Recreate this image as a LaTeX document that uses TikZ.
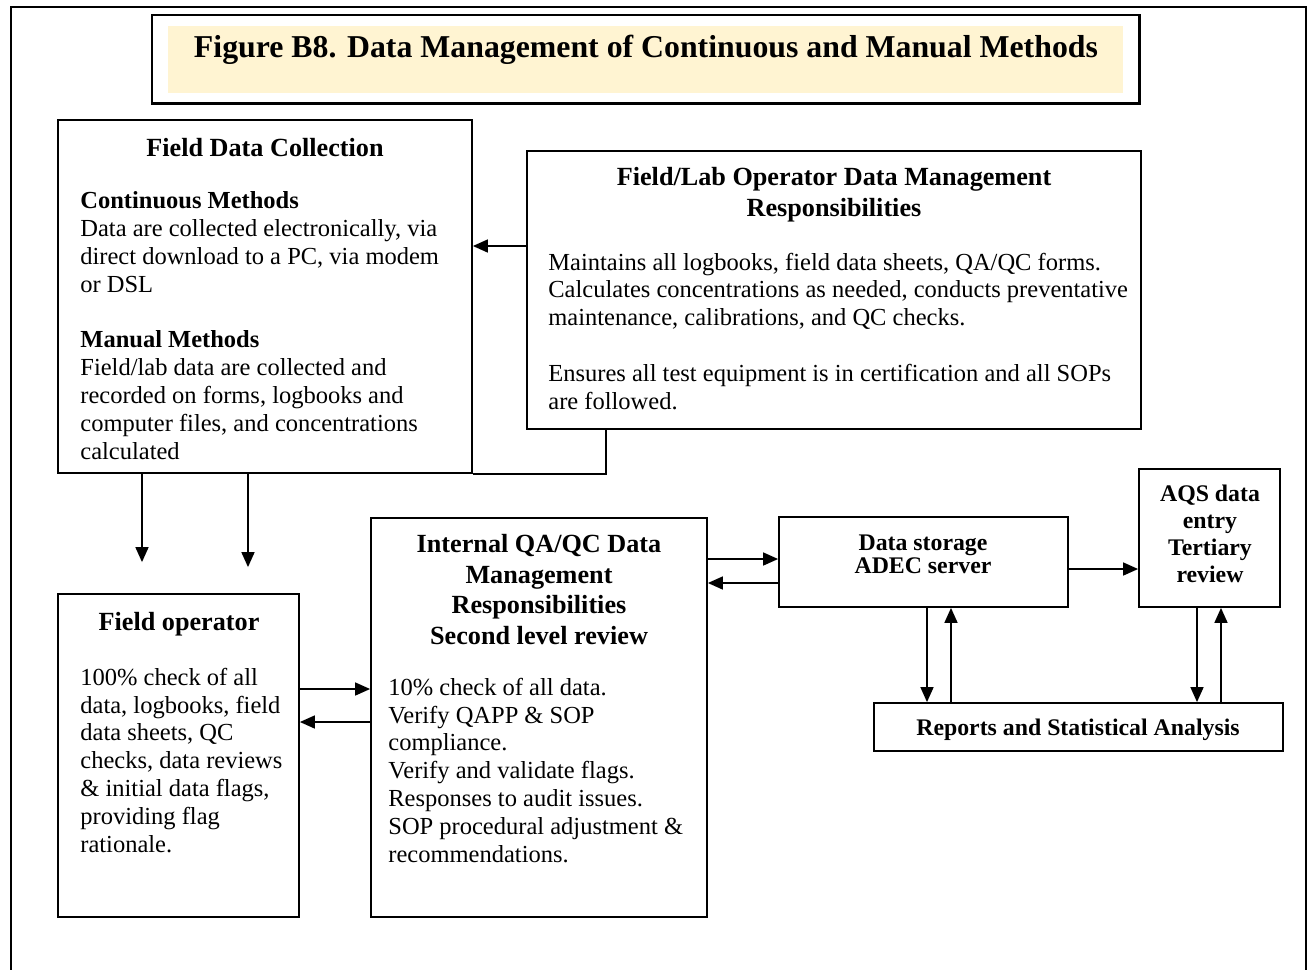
\documentclass[tikz,border=0pt]{standalone}
\usepackage{fontspec}
\setmainfont{Liberation Serif}
\usetikzlibrary{arrows.meta,fit}
\definecolor{titlefill}{RGB}{255,244,210}
\newcommand\txtbody{\fontsize{12.25pt}{13.9pt}\selectfont}
\newcommand\txthead{\fontsize{13.1pt}{15.2pt}\selectfont\bfseries}
\newcommand\txtsmall{\fontsize{11.9pt}{11.5pt}\selectfont\bfseries}
\newcommand\txttitle{\fontsize{15.9pt}{18pt}\selectfont\bfseries}
\newcommand\txtaqs{\fontsize{11.9pt}{13.5pt}\selectfont\bfseries}
\begin{document}
\begin{tikzpicture}[x=0.5pt,y=-0.5pt,
  box/.style={draw, line width=0.9pt, inner sep=0pt},
  arr/.style={line width=0.8pt, -{Triangle[length=7.5pt,width=6.5pt]}},
  ln/.style={line width=0.8pt},
  hd/.style={font=\txthead, align=center, inner sep=0pt, anchor=base},
  bd/.style={font=\txtbody, align=left, inner sep=0pt, anchor=base west},
  sm/.style={font=\txtsmall, align=center, inner sep=0pt, anchor=base},
]
\useasboundingbox (0,0) rectangle (1308,970);
\draw[line width=1pt] (11,975) -- (11,7) -- (1306,7) -- (1306,975);

% title (multi-line nodes below are placed by the baseline of their last line)
\node[box, fit={(152,15)(1139,103)}] (titlebox) {};
\draw[line width=1.4pt] (titlebox.north east) -- (titlebox.south east) -- (titlebox.south west);
\fill[titlefill] (168,26) rectangle (1123,93);
\node[font=\txttitle, inner sep=0pt, anchor=base] (title) at (646,57) {Figure B8. Data Management of Continuous and Manual Methods};

% field data collection
\node[box, fit={(58,120)(472,473)}] (fdc) {};
\node[hd] (fdch) at (265,156) {Field Data Collection};
\node[bd] (fdct) at (80,459) {\textbf{Continuous Methods}\\Data are collected electronically, via\\direct download to a PC, via modem\\or DSL\\[13.9pt]\textbf{Manual Methods}\\Field/lab data are collected and\\recorded on forms, logbooks and\\computer files, and concentrations\\calculated};

% field/lab operator
\node[box, fit={(527,151)(1141,429)}] (flo) {};
\node[hd] (floh) at (834,216) {Field/Lab Operator Data Management\\Responsibilities};
\node[bd] (flot) at (548,409) {Maintains all logbooks, field data sheets, QA/QC forms.\\Calculates concentrations as needed, conducts preventative\\maintenance, calibrations, and QC checks.\\[13.9pt]Ensures all test equipment is in certification and all SOPs\\are followed.};

% field operator
\node[box, fit={(58,594)(299,917)}] (fop) {};
\node[hd] (foph) at (179,630) {Field operator};
\node[bd] (fopt) at (80,852) {100\% check of all\\data, logbooks, field\\data sheets, QC\\checks, data reviews\\\& initial data flags,\\providing flag\\rationale.};

% internal QA/QC
\node[box, fit={(371,518)(707,917)}] (qa) {};
\node[hd] (qah) at (539,644) {Internal QA/QC Data\\Management\\Responsibilities\\Second level review};
\node[bd] (qat) at (388,862) {10\% check of all data.\\Verify QAPP \& SOP\\compliance.\\Verify and validate flags.\\Responses to audit issues.\\SOP procedural adjustment \&\\recommendations.};

% data storage
\node[box, fit={(779,517)(1068,607)}] (ds) {};
\node[sm] (dst) at (923,573) {Data storage\\ADEC server};

% AQS
\node[box, fit={(1139,469)(1280,607)}] (aqs) {};
\node[font=\txtaqs, align=center, inner sep=0pt, anchor=base] (aqst) at (1210,582) {AQS data\\entry\\Tertiary\\review};

% reports
\node[box, fit={(874,703)(1283,751)}] (rep) {};
\node[sm] (rept) at (1078,735) {Reports and Statistical Analysis};

% connectors
\draw[arr] (flo.west |- 0,246) -- (fdc.east |- 0,246);
\draw[ln] (flo.south -| 606,0) |- (fdc.south east);
\draw[arr, shorten >=15.5pt] (fdc.south -| 142,0) -- (fop.north -| 142,0);
\draw[arr, shorten >=13pt] (fdc.south -| 248,0) -- (fop.north -| 248,0);
\draw[arr] (fop.east |- 0,689) -- (qa.west |- 0,689);
\draw[arr] (qa.west |- 0,722) -- (fop.east |- 0,722);
\draw[arr] (qa.east |- 0,559) -- (ds.west |- 0,559);
\draw[arr] (ds.west |- 0,583) -- (qa.east |- 0,583);
\draw[arr] (ds.east |- 0,569) -- (aqs.west |- 0,569);
\draw[arr] (ds.south -| 927,0) -- (rep.north -| 927,0);
\draw[arr] (rep.north -| 951,0) -- (ds.south -| 951,0);
\draw[arr] (aqs.south -| 1197,0) -- (rep.north -| 1197,0);
\draw[arr] (rep.north -| 1221,0) -- (aqs.south -| 1221,0);
\end{tikzpicture}
\end{document}
